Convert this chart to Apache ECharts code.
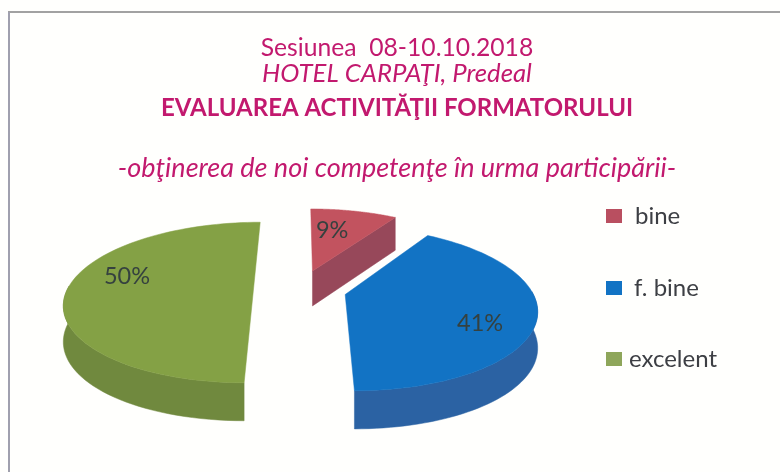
<!DOCTYPE html>
<html><head><meta charset="utf-8">
<style>html,body{margin:0;padding:0;background:#fff}#c{width:780px;height:472px}</style>
<script src="https://cdn.jsdelivr.net/npm/echarts@6/dist/echarts.min.js"></script>
</head><body><div id="c"></div>
<script>
const categories = ['bine', 'f. bine', 'excelent'];
const values = [9, 41, 50];
const percentLabels = ['9%', '41%', '50%'];
const titleLines = ['Sesiunea  08-10.10.2018', 'HOTEL CARPAŢI, Predeal', 'EVALUAREA ACTIVITĂŢII FORMATORULUI', '-obţinerea de noi competenţe în urma participării-'];

const topColors = ['#c2535f', '#1273c4', '#84a145'];
const wallColors = ['#97485a', '#2b62a3', '#70893e'];
const swatchColors = ['#b94f60', '#1273c4', '#8ea65a'];
const INK = '#c2196e';

// perspective pie projection
const VX = 300, Y0 = 289, AX = 186, AY = 78, P = 0.168, EXPLODE = 0.25;
const project = (X, Y) => {
  const s = 1 / (1 - P * Y);
  return [VX + AX * X * s, Y0 + AY * Y * s];
};
const depth = Y => 35.5 + 2.5 * Y;
const labelOffsets = [[0.128, -0.626], [0.662, 0.336], [-0.707, -0.17]];

const total = values.reduce((a, b) => a + b, 0);
const starts = values.map((_, i) => values.slice(0, i).reduce((a, b) => a + b, 0) / total * Math.PI * 2);

function sliceRender(i) {
  return function (params, api) {
    const a0 = starts[i];
    const a1 = a0 + api.value(0) / total * Math.PI * 2;
    const mid = (a0 + a1) / 2;
    const cx = Math.sin(mid) * EXPLODE, cy = -Math.cos(mid) * EXPLODE;
    const world = [];
    const N = 80;
    for (let k = 0; k <= N; k++) {
      const a = a0 + (a1 - a0) * k / N;
      world.push([cx + Math.sin(a), cy - Math.cos(a)]);
    }
    const rim = world.map(w => project(w[0], w[1]));
    const apex = project(cx, cy);
    const children = [];
    const wall = (pts, fill) => children.push({ type: 'polygon', shape: { points: pts }, style: { fill: fill, stroke: fill, lineWidth: 0.5 } });
    const drop = (w) => { const p = project(w[0], w[1]); return [p[0], p[1] + depth(w[1])]; };
    // outer wall
    const front = [], frontBottom = [];
    world.forEach((w, k) => {
      const a = a0 + (a1 - a0) * k / N;
      if (Math.cos(a) < 0.05) { front.push(rim[k]); frontBottom.push(drop(w)); }
    });
    if (front.length > 1) wall(front.concat(frontBottom.reverse()), wallColors[i]);
    // visible cut face of the small slice
    if (i === 0) {
      const w = world[N], p = project(w[0], w[1]);
      wall([apex, p, drop(w), drop([cx, cy])], wallColors[i]);
    }
    // top face
    children.push({ type: 'polygon', shape: { points: [apex].concat(rim) }, style: { fill: topColors[i], stroke: topColors[i], lineWidth: 0.5 } });
    const lp = project(cx + labelOffsets[i][0], cy + labelOffsets[i][1]);
    children.push({ type: 'text', style: { x: lp[0], y: lp[1], text: percentLabels[i], fill: '#35413f', font: '23.5px Lato', align: 'center', verticalAlign: 'middle' } });
    return { type: 'group', children: children };
  };
}

const titleCenter = [48, 74, 108, 168];
const titleStyle = [
  { fontStyle: 'normal', fontWeight: 'normal', fontSize: 24.7 },
  { fontStyle: 'italic', fontWeight: 'normal', fontSize: 25.7 },
  { fontStyle: 'normal', fontWeight: 'bold', fontSize: 24 },
  { fontStyle: 'italic', fontWeight: 'normal', fontSize: 27 }
];
const legendLeft = [606, 606, 606];
const legendTop = [204, 276, 347];
const legendGap = [13, 12, 7];

const chart = echarts.init(document.getElementById('c'), null, { renderer: 'canvas' });
chart.setOption({
  animation: false,
  backgroundColor: '#fffffd',
  color: swatchColors,
  title: titleLines.map((t, i) => ({
    text: t, left: 397, top: titleCenter[i] - titleStyle[i].fontSize / 2, textAlign: 'center', padding: 0,
    textStyle: Object.assign({ color: INK, fontFamily: 'Lato' }, titleStyle[i])
  })),
  legend: categories.map((name, i) => ({
    data: [{ name: name, itemStyle: { color: swatchColors[i] } }],
    left: legendLeft[i], top: legendTop[i], itemWidth: 16, itemHeight: 14, itemGap: 0,
    icon: 'rect', padding: 0, selectedMode: false,
    textStyle: { color: '#3d3f44', fontSize: 24, fontFamily: 'Lato', padding: [0, 0, 0, legendGap[i] - 5] }
  })),
  graphic: [
    { type: 'line', shape: { x1: 8, y1: 12, x2: 780, y2: 12 }, style: { stroke: '#a2a2a2', lineWidth: 2 } },
    { type: 'line', shape: { x1: 9, y1: 12, x2: 9, y2: 472 }, style: { stroke: '#a0a0ae', lineWidth: 2 } }
  ],
  series: categories.map((name, i) => ({
    type: 'custom', name: name, coordinateSystem: 'none', silent: true,
    itemStyle: { color: topColors[i] },
    renderItem: sliceRender(i),
    data: [[values[i]]]
  }))
});
</script></body></html>
